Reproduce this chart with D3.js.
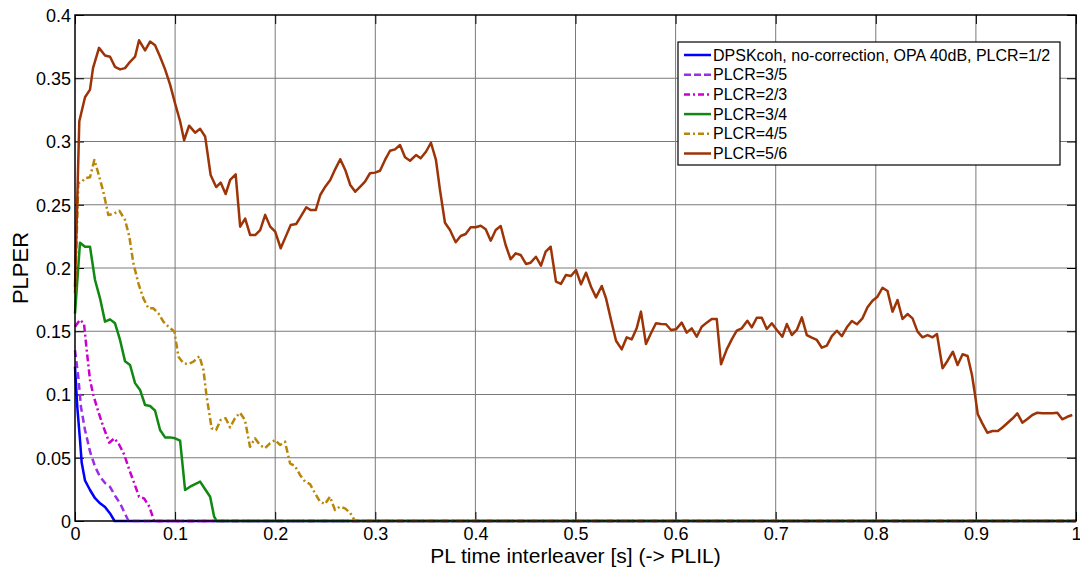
<!DOCTYPE html>
<html>
<head>
<meta charset="utf-8">
<script src="https://cdn.jsdelivr.net/npm/d3@7"></script>
<style>
  body { margin: 0; background: #fff; }
  text { font-family: Arial, "Liberation Sans", Helvetica, sans-serif; fill: #000; }
</style>
</head>
<body>
<svg id="chart" width="1080" height="569"></svg>
<script>
//series data, [PL time interleaver (s), PLPER]
var plcr12 = [[0,0.122],[0.0023,0.090],[0.005,0.064],[0.0067,0.046],[0.010,0.032],[0.015,0.0245],[0.020,0.018],
	[0.025,0.014],[0.030,0.011],[0.035,0.006],[0.0395,0],[1,0]];

var plcr35 = [[0,0.135],[0.0033,0.114],[0.006,0.090],[0.010,0.072],[0.015,0.055],[0.020,0.043],[0.025,0.035],
	[0.030,0.030],[0.035,0.027],[0.040,0.020],[0.045,0.014],[0.049,0.0074],[0.0535,0],[1,0]];

var plcr23 = [[0,0.1536],[0.005,0.159],[0.009,0.156],[0.0117,0.135],[0.015,0.1115],[0.0183,0.0996],[0.0233,0.0864],
	[0.0283,0.0745],[0.0343,0.0619],[0.0393,0.0654],[0.0443,0.0601],[0.0493,0.0522],[0.0543,0.0403],[0.059,0.0303],
	[0.064,0.0192],[0.069,0.0179],[0.0743,0.0113],[0.079,0],[1,0]];

var plcr34 = [[0,0.164],[0.005,0.220],[0.010,0.2168],[0.015,0.2168],[0.020,0.1905],[0.025,0.176],[0.030,0.1576],
	[0.035,0.1594],[0.040,0.1563],[0.045,0.1431],[0.050,0.1262],[0.055,0.1233],[0.060,0.109],[0.065,0.1036],
	[0.070,0.0917],[0.075,0.0909],[0.080,0.0872],[0.085,0.0719],[0.090,0.0661],[0.095,0.0661],[0.100,0.0654],
	[0.105,0.0635],[0.110,0.0245],[0.115,0.0271],[0.120,0.0292],[0.125,0.0311],[0.130,0.0251],[0.135,0.0192],
	[0.139,0.0034],[0.1415,0],[1,0]];

var plcr45 = [[0,0.180],[0.0033,0.267],[0.0067,0.268],[0.010,0.271],[0.015,0.2717],[0.0193,0.2854],[0.0233,0.2749],
	[0.0283,0.2603],[0.0333,0.2419],[0.0383,0.2427],[0.0443,0.2453],[0.050,0.238],[0.0543,0.2248],[0.0583,0.2037],
	[0.0633,0.1879],[0.0683,0.176],[0.0733,0.1681],[0.0783,0.1681],[0.0833,0.1642],[0.0883,0.1576],[0.0933,0.1536],
	[0.0993,0.1497],[0.1033,0.1299],[0.1083,0.1247],[0.1133,0.1240],[0.1183,0.126],[0.1243,0.1302],[0.1283,0.1194],
	[0.1315,0.0983],[0.1365,0.0733],[0.1409,0.0719],[0.1455,0.0798],[0.1505,0.0812],[0.1549,0.074],[0.1598,0.0812],
	[0.1648,0.0856],[0.1698,0.0798],[0.1748,0.0587],[0.1798,0.0654],[0.1848,0.0601],[0.1898,0.0575],[0.1948,0.0614],
	[0.1998,0.064],[0.2048,0.0601],[0.2098,0.0627],[0.2148,0.0456],[0.2198,0.0435],[0.2248,0.0364],[0.2298,0.0311],
	[0.2348,0.0292],[0.2398,0.0219],[0.2448,0.0153],[0.2498,0.0134],[0.2547,0.0192],[0.2597,0.0087],[0.2647,0.0113],
	[0.2697,0.010],[0.2747,0.0066],[0.2797,0],[1,0]];

var plcr56 = [[0,0.185],[0.0043,0.316],[0.010,0.335],[0.015,0.341],[0.018,0.358],[0.024,0.374],[0.030,0.368],
	[0.035,0.367],[0.040,0.359],[0.045,0.357],[0.050,0.358],[0.055,0.363],[0.060,0.367],[0.064,0.380],[0.070,0.372],
	[0.075,0.379],[0.080,0.376],[0.085,0.367],[0.090,0.357],[0.095,0.345],[0.100,0.330],[0.105,0.316],[0.109,0.301],
	[0.114,0.3125],[0.120,0.307],[0.125,0.310],[0.130,0.304],[0.1355,0.2735],[0.141,0.264],[0.1455,0.2675],
	[0.1505,0.2585],[0.155,0.2696],[0.1605,0.274],[0.165,0.2327],[0.170,0.239],[0.175,0.226],[0.180,0.226],
	[0.185,0.230],[0.190,0.242],[0.195,0.2327],[0.200,0.2287],[0.2055,0.2156],[0.2105,0.2248],[0.2155,0.234],
	[0.221,0.2348],[0.2255,0.2406],[0.231,0.248],[0.2355,0.2458],[0.2405,0.2458],[0.245,0.2577],[0.250,0.2643],
	[0.255,0.2696],[0.260,0.2782],[0.265,0.286],[0.270,0.2775],[0.275,0.2656],[0.280,0.2603],[0.285,0.2643],
	[0.2897,0.2682],[0.2947,0.2749],[0.2997,0.2754],[0.3047,0.2769],[0.3097,0.2854],[0.3147,0.2927],[0.3197,0.2938],
	[0.3247,0.2972],[0.3297,0.2875],[0.3347,0.2848],[0.3407,0.2893],[0.3453,0.2867],[0.3506,0.2919],[0.3556,0.299],
	[0.3606,0.2854],[0.3646,0.2617],[0.3696,0.2358],[0.3746,0.230],[0.3803,0.2203],[0.3853,0.2253],[0.3903,0.2269],
	[0.3953,0.2322],[0.4003,0.2322],[0.4053,0.2334],[0.4103,0.2306],[0.4153,0.2216],[0.4203,0.230],[0.4253,0.2332],
	[0.4302,0.2182],[0.4352,0.2069],[0.4402,0.2116],[0.4452,0.2103],[0.4505,0.2032],[0.4552,0.2042],[0.4605,0.2089],
	[0.4655,0.2018],[0.4702,0.2129],[0.4752,0.2168],[0.4805,0.1892],[0.4855,0.1874],[0.4905,0.1945],[0.4955,0.1937],
	[0.5005,0.1984],[0.5055,0.1871],[0.5105,0.1963],[0.5155,0.1852],[0.5205,0.1768],[0.5262,0.1858],[0.5305,0.176],
	[0.5355,0.1589],[0.5405,0.1425],[0.5462,0.1357],[0.5512,0.1452],[0.5562,0.1436],[0.5611,0.1523],[0.5654,0.1655],
	[0.5704,0.1399],[0.5754,0.1484],[0.5804,0.1563],[0.5854,0.1557],[0.5904,0.1555],[0.5954,0.151],[0.6004,0.1515],
	[0.6061,0.1568],[0.6111,0.1489],[0.6161,0.1523],[0.6211,0.1457],[0.6261,0.1536],[0.6311,0.1568],[0.6361,0.1597],
	[0.6411,0.1597],[0.6454,0.1239],[0.6511,0.1357],[0.6561,0.1436],[0.6611,0.1504],[0.6661,0.1523],[0.6717,0.1583],
	[0.6761,0.1531],[0.6811,0.1607],[0.6861,0.1607],[0.6911,0.1518],[0.6961,0.1563],[0.7011,0.151],[0.7067,0.1457],
	[0.7111,0.1557],[0.7161,0.147],[0.7211,0.151],[0.7261,0.161],[0.7311,0.147],[0.7361,0.1449],[0.7411,0.1431],
	[0.7461,0.137],[0.7511,0.1386],[0.7561,0.1462],[0.7611,0.1504],[0.7661,0.1462],[0.7711,0.1531],[0.7761,0.1581],
	[0.7811,0.1555],[0.7867,0.1602],[0.7917,0.1689],[0.7967,0.1741],[0.8017,0.1773],[0.8067,0.1844],[0.8117,0.1818],
	[0.8167,0.1655],[0.8217,0.1747],[0.8267,0.1597],[0.8317,0.1636],[0.8367,0.1602],[0.8417,0.1497],[0.8467,0.1452],
	[0.8517,0.147],[0.8567,0.1452],[0.8611,0.1478],[0.8667,0.1207],[0.8717,0.1267],[0.877,0.1338],[0.8817,0.1233],
	[0.8867,0.1318],[0.8917,0.1304],[0.8961,0.1154],[0.8994,0.0983],[0.9018,0.0846],[0.9064,0.0772],[0.9114,0.0698],
	[0.9166,0.0711],[0.922,0.0711],[0.9268,0.0741],[0.9318,0.0777],[0.9368,0.0812],[0.9414,0.0851],[0.9464,0.0777],
	[0.9514,0.0806],[0.9564,0.0838],[0.9614,0.0856],[0.9664,0.0851],[0.9714,0.0851],[0.9764,0.0851],[0.9813,0.0856],
	[0.9863,0.0804],[0.9913,0.0824],[0.9963,0.0838]];

var seriesNames = ["DPSKcoh, no-correction, OPA 40dB, PLCR=1/2", "PLCR=3/5", "PLCR=2/3", "PLCR=3/4", "PLCR=4/5", "PLCR=5/6"];
var seriesData = [plcr12, plcr35, plcr23, plcr34, plcr45, plcr56];
var seriesColors = ["#0000ff", "#9a2de6", "#cc00cc", "#118811", "#b8860b", "#9c3408"];
var seriesDash = [null, "7,4", "7,3,2,3", null, "7,3,2,3", null];

var xTicks = [0, 0.1, 0.2, 0.3, 0.4, 0.5, 0.6, 0.7, 0.8, 0.9, 1];
var yTicks = [0, 0.05, 0.1, 0.15, 0.2, 0.25, 0.3, 0.35, 0.4];

//plot box (don't use "top" - clashes with window.top)
var boxLeft = 75, boxRight = 1076, boxTop = 15, boxBottom = 521;

var svg = d3.select("#chart");

var x = d3.scaleLinear().domain([0, 1]).range([boxLeft, boxRight]);
var y = d3.scaleLinear().domain([0, 0.4]).range([boxBottom, boxTop]);

var fmt = function(d){ return String(+d.toFixed(2)); };

//grid lines
svg.append("g").selectAll("line")
	.data(xTicks.slice(1, -1))
	.enter().append("line")
	.attr("x1", function(d){ return x(d); }).attr("x2", function(d){ return x(d); })
	.attr("y1", boxTop).attr("y2", boxBottom)
	.attr("stroke", "#7a7a7a").attr("stroke-width", 1);

svg.append("g").selectAll("line")
	.data(yTicks.slice(1, -1))
	.enter().append("line")
	.attr("y1", function(d){ return y(d); }).attr("y2", function(d){ return y(d); })
	.attr("x1", boxLeft).attr("x2", boxRight)
	.attr("stroke", "#7a7a7a").attr("stroke-width", 1);

//axes, ticks pointing inward like matlab
var xAxis = svg.append("g")
	.attr("transform", "translate(0," + boxBottom + ")")
	.call(d3.axisBottom(x).tickValues(xTicks).tickFormat(fmt).tickSizeInner(-9).tickSizeOuter(0).tickPadding(6));
var yAxis = svg.append("g")
	.attr("transform", "translate(" + boxLeft + ",0)")
	.call(d3.axisLeft(y).tickValues(yTicks).tickFormat(fmt).tickSizeInner(-9).tickSizeOuter(0).tickPadding(4));
svg.append("g")
	.attr("transform", "translate(0," + boxTop + ")")
	.call(d3.axisTop(x).tickValues(xTicks).tickFormat("").tickSizeInner(-9).tickSizeOuter(0));
svg.append("g")
	.attr("transform", "translate(" + boxRight + ",0)")
	.call(d3.axisRight(y).tickValues(yTicks).tickFormat("").tickSizeInner(-9).tickSizeOuter(0));

svg.selectAll(".domain").remove();
svg.selectAll(".tick line").attr("stroke", "#000").attr("stroke-width", 1);
xAxis.selectAll("text").style("font-size", "18px").attr("dy", "0.71em");
yAxis.selectAll("text").style("font-size", "18px").attr("dy", "0.36em");

//data lines
var line = d3.line()
	.x(function(d){ return x(d[0]); })
	.y(function(d){ return y(d[1]); });

svg.append("g").selectAll("path")
	.data(seriesData)
	.enter().append("path")
	.attr("d", line)
	.attr("fill", "none")
	.attr("stroke", function(d, i){ return seriesColors[i]; })
	.attr("stroke-width", 2.5)
	.attr("stroke-dasharray", function(d, i){ return seriesDash[i]; })
	.attr("stroke-linejoin", "round");

//box
svg.append("rect")
	.attr("x", boxLeft).attr("y", boxTop)
	.attr("width", boxRight - boxLeft).attr("height", boxBottom - boxTop)
	.attr("fill", "none").attr("stroke", "#000").attr("stroke-width", 1.5);

//axis titles
svg.append("text")
	.attr("x", (boxLeft + boxRight) / 2).attr("y", 563)
	.attr("text-anchor", "middle")
	.style("font-size", "21px")
	.text("PL time interleaver [s] (-> PLIL)");

svg.append("text")
	.attr("transform", "translate(28," + ((boxTop + boxBottom) / 2) + ") rotate(-90)")
	.attr("text-anchor", "middle")
	.style("font-size", "22px")
	.text("PLPER");

//legend
var legend = svg.append("g");
legend.append("rect")
	.attr("x", 678).attr("y", 42).attr("width", 382).attr("height", 123)
	.attr("fill", "#fff").attr("stroke", "#000").attr("stroke-width", 1.2);

var entries = legend.selectAll(".entry")
	.data(seriesNames)
	.enter().append("g")
	.attr("class", "entry")
	.attr("transform", function(d, i){ return "translate(0," + (55 + i * 19.7) + ")"; });

entries.append("line")
	.attr("x1", 684).attr("x2", 711)
	.attr("stroke", function(d, i){ return seriesColors[i]; })
	.attr("stroke-width", 2.5)
	.attr("stroke-dasharray", function(d, i){ return seriesDash[i] ? (i == 1 ? "7,3" : "6,3,2,3") : null; });

entries.append("text")
	.attr("x", 713).attr("dy", "0.35em")
	.style("font-size", "16px")
	.text(function(d){ return d; });
</script>
</body>
</html>
